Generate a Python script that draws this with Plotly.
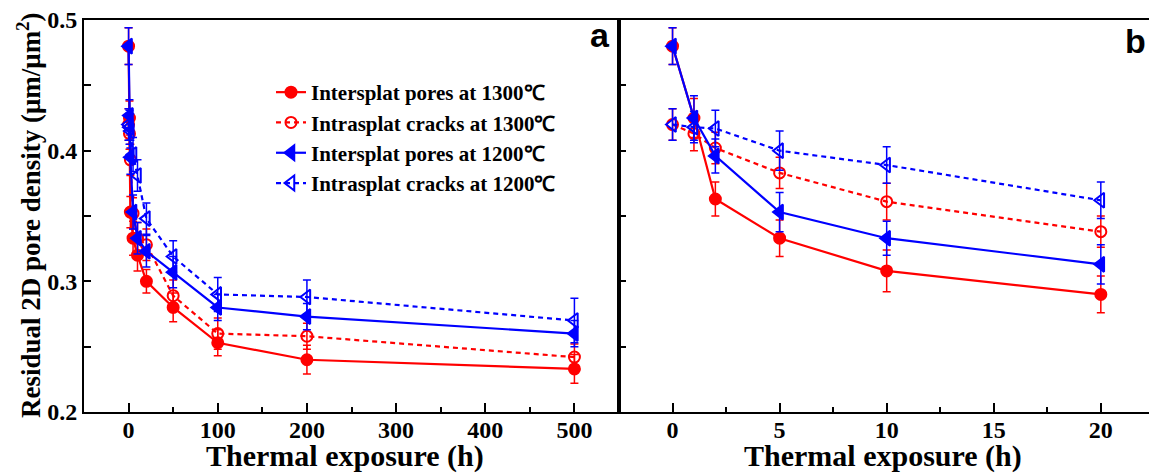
import plotly.graph_objects as go

# ---------------- data ----------------
# Panel a: thermal exposure up to 500 h
xa = [0, 1, 2, 5, 10, 20, 50, 100, 200, 500]
a_inter_1300 = [0.480, 0.425, 0.353, 0.333, 0.320, 0.300, 0.280, 0.253, 0.240, 0.233]
a_inter_1300_err = [0.014, 0.013, 0.012, 0.013, 0.012, 0.009, 0.011, 0.010, 0.011, 0.011]
a_intra_1300 = [0.420, 0.413, 0.393, 0.352, 0.333, 0.328, 0.289, 0.260, 0.258, 0.242]
a_intra_1300_err = [0.012, 0.012, 0.012, 0.012, 0.012, 0.012, 0.012, 0.012, 0.010, 0.010]
a_inter_1200 = [0.480, 0.427, 0.395, 0.353, 0.333, 0.323, 0.307, 0.280, 0.273, 0.260]
a_inter_1200_err = [0.014, 0.012, 0.013, 0.013, 0.012, 0.012, 0.012, 0.010, 0.010, 0.010]
a_intra_1200 = [0.420, 0.418, 0.415, 0.397, 0.381, 0.348, 0.319, 0.290, 0.288, 0.270]
a_intra_1200_err = [0.012, 0.013, 0.013, 0.013, 0.012, 0.012, 0.012, 0.013, 0.013, 0.017]

# Panel b: thermal exposure up to 20 h
xb = [0, 1, 2, 5, 10, 20]
b_inter_1300 = [0.480, 0.425, 0.363, 0.333, 0.308, 0.290]
b_inter_1300_err = [0.014, 0.015, 0.013, 0.014, 0.016, 0.014]
b_intra_1300 = [0.420, 0.413, 0.402, 0.383, 0.361, 0.338]
b_intra_1300_err = [0.012, 0.013, 0.012, 0.012, 0.014, 0.012]
b_inter_1200 = [0.480, 0.425, 0.396, 0.353, 0.333, 0.313]
b_inter_1200_err = [0.014, 0.017, 0.013, 0.015, 0.013, 0.015]
b_intra_1200 = [0.420, 0.418, 0.417, 0.400, 0.389, 0.362]
b_intra_1200_err = [0.012, 0.012, 0.014, 0.015, 0.014, 0.014]

names = ["Intersplat pores at 1300℃", "Intrasplat cracks at 1300℃",
         "Intersplat pores at 1200℃", "Intrasplat cracks at 1200℃"]

RED = "#FF0000"
BLUE = "#0000FF"
SERIF = "Liberation Serif, Times New Roman, serif"
SANS = "Liberation Sans, Arial, sans-serif"

styles = [
    dict(color=RED, dash="solid", symbol="circle", size=11),
    dict(color=RED, dash="5px,4px", symbol="circle-open", size=11),
    dict(color=BLUE, dash="solid", symbol="triangle-left", size=13),
    dict(color=BLUE, dash="5px,4px", symbol="triangle-left-open", size=13),
]

a_series = [(a_inter_1300, a_inter_1300_err), (a_intra_1300, a_intra_1300_err),
            (a_inter_1200, a_inter_1200_err), (a_intra_1200, a_intra_1200_err)]
b_series = [(b_inter_1300, b_inter_1300_err), (b_intra_1300, b_intra_1300_err),
            (b_inter_1200, b_inter_1200_err), (b_intra_1200, b_intra_1200_err)]

fig = go.Figure()

for i, (st, (ys, es)) in enumerate(zip(styles, a_series)):
    fig.add_trace(go.Scatter(
        x=xa, y=ys, mode="lines+markers", name=names[i],
        legendgroup=f"g{i}",
        line=dict(color=st["color"], width=2.2, dash=st["dash"]),
        marker=dict(symbol=st["symbol"], size=st["size"], color=st["color"],
                    line=dict(color=st["color"], width=2)),
        error_y=dict(type="data", array=es, visible=True, color=st["color"],
                     thickness=1.5, width=4),
        xaxis="x", yaxis="y"))

for i, (st, (ys, es)) in enumerate(zip(styles, b_series)):
    fig.add_trace(go.Scatter(
        x=xb, y=ys, mode="lines+markers", name=names[i],
        legendgroup=f"g{i}", showlegend=False,
        line=dict(color=st["color"], width=2.2, dash=st["dash"]),
        marker=dict(symbol=st["symbol"], size=st["size"], color=st["color"],
                    line=dict(color=st["color"], width=2)),
        error_y=dict(type="data", array=es, visible=True, color=st["color"],
                     thickness=1.5, width=4),
        xaxis="x2", yaxis="y2"))

W, H = 1149, 473
ML, MR, MT, MB = 84, 0, 20, 61
PW = W - ML - MR
split = (619 - ML) / PW

tickfont = dict(family=SERIF, size=24, color="black", weight="bold")

common_x = dict(showline=True, linewidth=2, linecolor="black", mirror=True,
                ticks="inside", ticklen=9, tickwidth=2, tickcolor="black",
                showgrid=False, zeroline=False, tickfont=tickfont,
                ticklabelstandoff=-5)

fig.update_layout(
    width=W, height=H,
    margin=dict(l=ML, r=MR, t=MT, b=MB),
    paper_bgcolor="white", plot_bgcolor="white",
    font=dict(family=SERIF, color="black"),
    xaxis=dict(domain=[0, split], range=[-50, 550], tickvals=[0, 100, 200, 300, 400, 500],
               minor=dict(dtick=50, tick0=0, ticks="inside", ticklen=5, tickwidth=2,
                          tickcolor="black"),
               anchor="y", **common_x),
    xaxis2=dict(domain=[split, 1], range=[-2.5, 22.25], tickvals=[0, 5, 10, 15, 20],
                minor=dict(dtick=2.5, tick0=0, ticks="inside", ticklen=5, tickwidth=2,
                           tickcolor="black"),
                anchor="y2", **common_x),
    yaxis=dict(domain=[0, 1], range=[0.2, 0.5], tickvals=[0.2, 0.3, 0.4, 0.5],
               ticktext=["0.2", "0.3", "0.4", "0.5"],
               minor=dict(dtick=0.05, tick0=0.2, ticks="inside", ticklen=7, tickwidth=2,
                          tickcolor="black"),
               showline=True, linewidth=2, linecolor="black", mirror=True,
               ticks="inside", ticklen=7, tickwidth=2, tickcolor="black",
               showgrid=False, zeroline=False, tickfont=tickfont, anchor="x"),
    yaxis2=dict(domain=[0, 1], range=[0.2, 0.5], tickvals=[0.2, 0.3, 0.4, 0.5],
                showticklabels=False,
                minor=dict(dtick=0.05, tick0=0.2, ticks="inside", ticklen=7, tickwidth=2,
                           tickcolor="black"),
                showline=True, linewidth=2, linecolor="black",
                ticks="inside", ticklen=7, tickwidth=2, tickcolor="black",
                showgrid=False, zeroline=False, anchor="x2"),
    showlegend=True,
    legend=dict(x=(271 - ML) / PW, y=(412 - 72) / 392, xanchor="left", yanchor="top",
                bgcolor="rgba(0,0,0,0)", borderwidth=0, tracegroupgap=0,
                font=dict(family=SERIF, size=21, color="black", weight="bold")),
)

def yp(px):
    return (412 - px) / 392

fig.add_annotation(text="<b>Thermal exposure (h)</b>", xref="paper", yref="paper",
                   x=(345 - ML) / PW, y=yp(456), xanchor="center", yanchor="middle",
                   showarrow=False, font=dict(family=SERIF, size=30, color="black"))
fig.add_annotation(text="<b>Thermal exposure (h)</b>", xref="paper", yref="paper",
                   x=(883 - ML) / PW, y=yp(456), xanchor="center", yanchor="middle",
                   showarrow=False, font=dict(family=SERIF, size=30, color="black"))
fig.add_annotation(text="<b>Residual 2D pore density (μm/μm<sup>2</sup>)</b>",
                   xref="paper", yref="paper", x=(29 - ML) / PW, y=yp(215),
                   xanchor="center", yanchor="middle", textangle=-90,
                   showarrow=False, font=dict(family=SERIF, size=27, color="black"))
fig.add_annotation(text="<b>a</b>", xref="paper", yref="paper",
                   x=(612 - ML) / PW, y=yp(35), xanchor="right", yanchor="middle",
                   showarrow=False, font=dict(family=SANS, size=34, color="black"))
fig.add_annotation(text="<b>b</b>", xref="paper", yref="paper",
                   x=(1148 - ML) / PW, y=yp(41), xanchor="right", yanchor="middle",
                   showarrow=False, font=dict(family=SANS, size=34, color="black"))

fig.write_html("out.html", config={"displayModeBar": False},
               post_script="document.body.style.margin='0';document.body.style.overflow='hidden';")
